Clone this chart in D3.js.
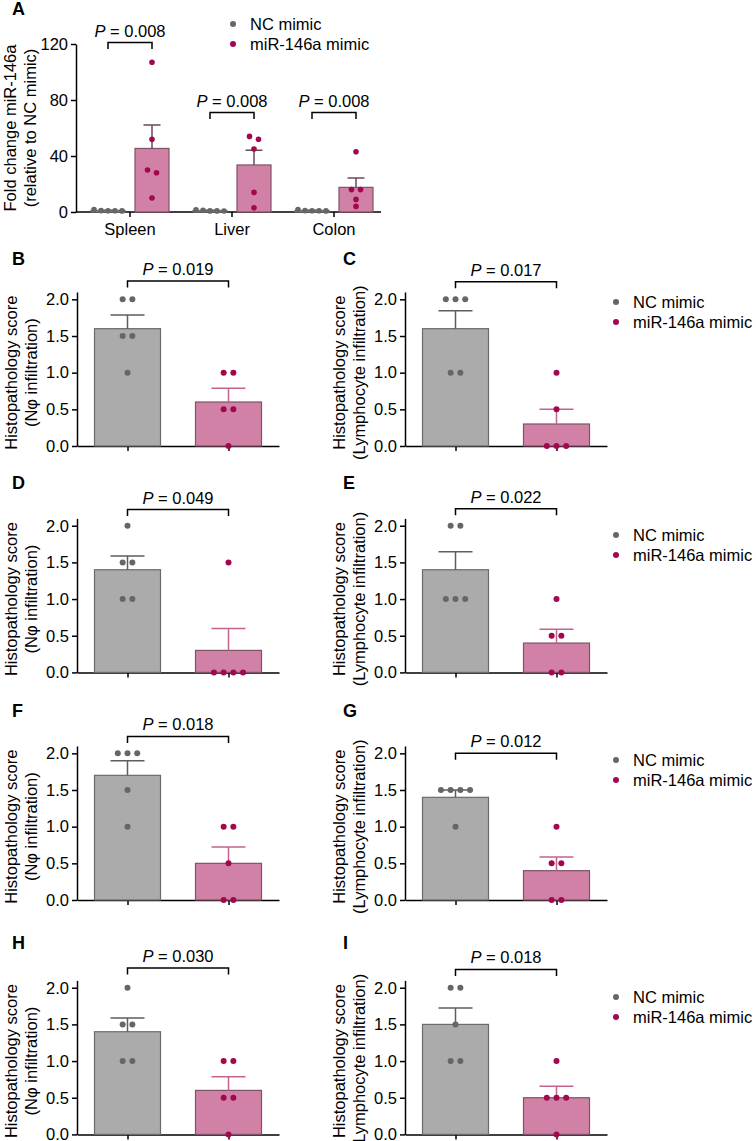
<!DOCTYPE html>
<html>
<head>
<meta charset="utf-8">
<script src="https://cdn.jsdelivr.net/npm/d3@7"></script>
<style>
  body { margin: 0; background: #fff; }
  text { font-family: "Liberation Sans", Arial, sans-serif; }
</style>
</head>
<body>
<svg id="fig" width="756" height="1141"></svg>
<script>
// ----- Data -----
// Panel A: fold change of miR-146a, 5 mice per group
const tissues = ['Spleen', 'Liver', 'Colon']
const foldNC = [[1.8, 0.9, 0.8, 0.9, 1.0], [1.5, 0.8, 0.7, 0.8, 1.3], [1.8, 0.9, 0.8, 0.9, 1.0]]
const foldMiR = [[107, 52, 30, 28, 10], [54, 52, 45, 14, 3], [43, 16, 16, 9, 4]]
const foldP = ['0.008', '0.008', '0.008']
const foldBracket = [121, 71, 71]
const foldTicks = [0, 40, 80, 120]

// Panels B-I: histopathology scores, 5 mice per group
const panelIds = ['B', 'C', 'D', 'E', 'F', 'G', 'H', 'I']
const scoreNC = [[2, 2, 1.5, 1.5, 1], [2, 2, 2, 1, 1], [2, 1.5, 1.5, 1, 1], [2, 2, 1, 1, 1],
                 [2, 2, 2, 1.5, 1], [1.5, 1.5, 1.5, 1.5, 1], [2, 1.5, 1.5, 1, 1], [2, 2, 1.5, 1, 1]]
const scoreMiR = [[1, 1, 0.5, 0.5, 0], [1, 0.5, 0, 0, 0], [1.5, 0, 0, 0, 0], [1, 0.5, 0.5, 0, 0],
                  [1, 1, 0.5, 0, 0], [1, 0.5, 0.5, 0, 0], [1, 1, 0.5, 0.5, 0], [1, 0.5, 0.5, 0.5, 0]]
const scoreP = ['0.019', '0.017', '0.049', '0.022', '0.018', '0.012', '0.030', '0.018']
const scoreBracket = [2.25, 2.24, 2.22, 2.23, 2.23, 2.0, 2.27, 2.25]
const scoreTicks = [0, 0.5, 1, 1.5, 2]
const scoreTitles = ['(N\u03c6 infiltration)', '(Lymphocyte infiltration)']
const groups = ['NC mimic', 'miR-146a mimic']

// ----- Style -----
const ncDot = '#666666', ncFill = '#ababab', ncStroke = '#6b6b6b', ncErr = '#5e5e5e'
const mirDot = '#a3084f', mirFill = '#d181a6', mirStroke = '#7d5467', mirErr = '#c3648f'
const fontSize = 16.5

// layout of the 4 rows (pixel y of score 2.0)
const rowTops = [299.3, 525.7, 753.3, 987.7]
const labelY = [265, 489, 717, 949]
const legendY = [302, 535, 760, 997]
const colAxis = [77, 405]

let svg = d3.select('#fig')

function sem(v) { return d3.deviation(v) / Math.sqrt(v.length) }

// horizontal offsets for dots that would overlap (same height)
function swarm(values, y, spacing, r) {
  let order = values.map((v, i) => i).sort((a, b) => values[b] - values[a])
  let out = new Array(values.length)
  let cluster = []
  function flush() {
    cluster.forEach((k, j) => { out[k] = (j - (cluster.length - 1) / 2) * spacing })
    cluster = []
  }
  order.forEach(k => {
    if (cluster.length && Math.abs(y(values[k]) - y(values[cluster[cluster.length - 1]])) >= 2 * r) flush()
    cluster.push(k)
  })
  flush()
  return out
}

function styleAxis(g) {
  g.select('.domain').attr('stroke', '#000').attr('stroke-width', 1.5)
  g.selectAll('.tick line').attr('stroke', '#000').attr('stroke-width', 1.5)
  g.selectAll('.tick text').attr('font-size', fontSize).attr('fill', '#000')
    .attr('font-family', '"Liberation Sans", Arial, sans-serif')
}

// bar + one-sided SEM + dots
function drawGroup(g, values, cx, y, barW, cap, fill, stroke, err, dot, r, spacing) {
  let m = d3.mean(values), s = sem(values)
  g.append('rect')
   .attr('x', cx - barW / 2).attr('width', barW)
   .attr('y', y(m)).attr('height', y(0) - y(m))
   .attr('fill', fill).attr('stroke', stroke).attr('stroke-width', 1.2)
  g.append('path')
   .attr('d', 'M' + cx + ',' + y(m) + 'V' + y(m + s) + 'M' + (cx - cap / 2) + ',' + y(m + s) + 'H' + (cx + cap / 2))
   .attr('stroke', err).attr('stroke-width', 1.5).attr('fill', 'none')
  let off = swarm(values, y, spacing, r)
  g.selectAll(null)
   .data(values)
   .enter()
   .append('circle')
   .attr('cx', (d, i) => cx + off[i])
   .attr('cy', d => y(d))
   .attr('r', r)
   .attr('fill', dot)
}

function drawBracket(g, x0, x1, yb, label) {
  g.append('path')
   .attr('d', 'M' + x0 + ',' + (yb + 6.5) + 'V' + yb + 'H' + x1 + 'V' + (yb + 6.5))
   .attr('stroke', '#000').attr('stroke-width', 1.5).attr('fill', 'none')
  let t = g.append('text')
   .attr('x', (x0 + x1) / 2).attr('y', yb - 6)
   .attr('text-anchor', 'middle').attr('font-size', fontSize)
  t.append('tspan').attr('font-style', 'italic').text('P')
  t.append('tspan').text(' = ' + label)
}

function drawYTitle(g, x, yMid, lines) {
  lines.forEach((l, i) => {
    g.append('text')
     .attr('transform', 'translate(' + (x - 60 + i * 20) + ',' + yMid + ') rotate(-90)')
     .attr('text-anchor', 'middle').attr('font-size', fontSize)
     .text(l)
  })
}

function drawLegend(g, x, y) {
  let items = g.selectAll(null).data(groups).enter().append('g')
    .attr('transform', (d, i) => 'translate(' + x + ',' + (y + i * 20) + ')')
  items.append('circle').attr('r', 3).attr('fill', (d, i) => i ? mirDot : ncDot)
  items.append('text').attr('x', 17).attr('dy', '0.35em').attr('font-size', fontSize).text(d => d)
}

function panelLabel(x, y, s) {
  svg.append('text').attr('x', x).attr('y', y)
     .attr('font-size', 18).attr('font-weight', 'bold').text(s)
}

// ----- Panel A -----
let gA = svg.append('g')
let aY = d3.scaleLinear().domain([0, 120]).range([212, 44])
let aX = d3.scaleBand().domain(tissues).range([79, 385])

gA.append('g').attr('transform', 'translate(76,0)')
  .call(d3.axisLeft(aY).tickValues(foldTicks).tickSize(5).tickSizeOuter(0).tickPadding(3))
  .call(styleAxis)
let axA = gA.append('g').attr('transform', 'translate(0,212)')
  .call(d3.axisBottom(aX).tickSize(5).tickSizeOuter(0).tickPadding(6))
  .call(styleAxis)
axA.select('.domain').remove()
gA.append('line').attr('x1', 76).attr('x2', 381).attr('y1', 212).attr('y2', 212)
  .attr('stroke', '#000').attr('stroke-width', 1.5)

tissues.forEach((t, i) => {
  let c = aX(t) + aX.bandwidth() / 2
  drawGroup(gA, foldNC[i], c - 22, aY, 34, 17, ncFill, ncStroke, ncErr, ncDot, 2.8, 7)
  drawGroup(gA, foldMiR[i], c + 22, aY, 34, 17, mirFill, mirStroke, '#6b4a5a', mirDot, 2.8, 9)
  drawBracket(gA, c - 22, c + 22, aY(foldBracket[i]), foldP[i])
})
drawYTitle(gA, 76, (aY(0) + aY(120)) / 2, ['Fold change miR-146a', '(relative to NC mimic)'])
drawLegend(gA, 233, 24)
panelLabel(12, 15, 'A')

// ----- Panels B-I -----
panelIds.forEach((id, i) => {
  let col = i % 2, row = Math.floor(i / 2)
  let ax = colAxis[col], top = rowTops[row]
  let g = svg.append('g')
  let y = d3.scaleLinear().domain([0, 2.1]).range([top + 146.7, top - 7.3])
  let x = d3.scalePoint().domain(groups).range([ax, ax + 202]).padding(0.5)

  g.append('g').attr('transform', 'translate(' + ax + ',0)')
   .call(d3.axisLeft(y).tickValues(scoreTicks).tickFormat(d3.format('.1f')).tickSize(5).tickSizeOuter(0).tickPadding(3))
   .call(styleAxis)
  g.append('g').attr('transform', 'translate(0,' + y(0) + ')')
   .call(d3.axisBottom(x).tickSize(5).tickSizeOuter(0).tickFormat(''))
   .call(styleAxis)

  drawGroup(g, scoreNC[i], x(groups[0]), y, 66, 34, ncFill, ncStroke, ncErr, ncDot, 3, 9.7)
  drawGroup(g, scoreMiR[i], x(groups[1]), y, 66, 34, mirFill, mirStroke, mirErr, mirDot, 3, 9.7)
  drawBracket(g, x(groups[0]), x(groups[1]), y(scoreBracket[i]), scoreP[i])
  drawYTitle(g, ax, (y(0) + y(2)) / 2, ['Histopathology score', scoreTitles[col]])
  if (col == 1) drawLegend(g, 616, legendY[row])
  panelLabel(col ? 343 : 12, labelY[row], id)
})
</script>
</body>
</html>
